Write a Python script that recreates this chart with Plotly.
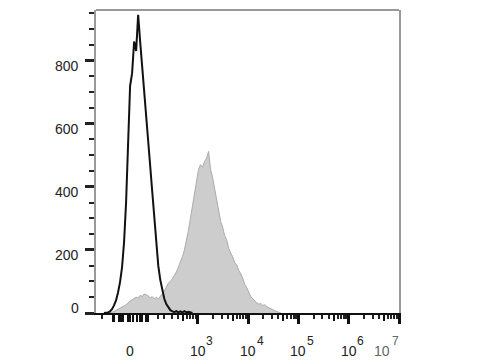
import numpy as np
import plotly.graph_objects as go

# ---- data (histogram counts on display-channel bins) ----
W = 90.0  # biexponential width parameter

def T(v):
    return np.arcsinh(np.asarray(v, dtype=float) / W) / np.log(10)

BIN_START = -0.52   # display-channel units
BIN_STEP = 0.04

control_counts = [0, 0, 2, 5, 12, 24, 40, 65, 98, 145,
                  225, 350, 540, 720, 760, 860, 830, 945, 860, 775,
                  690, 610, 530, 465, 385, 300, 215, 150, 105, 70,
                  45, 28, 16, 9, 5, 3, 6, 2, 5, 2,
                  6, 2, 4, 1, 0]

stained_counts = [0, 0, 0, 0, 2, 5, 8, 12, 15, 18,
                  22, 26, 33, 38, 42, 46, 50, 48, 56, 52,
                  60, 58, 55, 48, 52, 45, 50, 44, 52, 62,
                  70, 82, 95, 100, 108, 120, 130, 145, 160, 178,
                  200, 228, 262, 300, 340, 380, 420, 455, 470, 462,
                  480, 490, 512, 455, 430, 395, 350, 320, 290, 272,
                  245, 232, 205, 190, 178, 160, 152, 135, 125, 110,
                  90, 80, 65, 52, 45, 38, 32, 28, 30, 24,
                  26, 20, 16, 14, 10, 7, 4, 2, 0]

x_major_vals = [1e3, 1e4, 1e5, 1e6, 1e7]
x_label_vals = [0, 1e3, 1e4, 1e5, 1e6, 1e7]
x_label_base = ["0", "10", "10", "10", "10", "10"]
x_label_exp = ["", "3", "4", "5", "6", "7"]
y_label_vals = [0, 200, 400, 600, 800]
y_label_text = ["0", "200", "400", "600", "800"]

X_MIN_VAL = -205.0
X_MAX_VAL = 1e7
Y_MAX = 960

# ---- derived ----
x_ctrl = [BIN_START + i * BIN_STEP for i in range(len(control_counts))]
x_stain = [BIN_START + i * BIN_STEP for i in range(len(stained_counts))]

minor_vals = [-150, 150, 200, 300, 400, 600, 700, 800, 900]
for k in range(3, 7):
    for m in [2, 3, 4, 6, 7, 8, 9]:
        minor_vals.append(m * 10 ** k)
medium_vals = [5 * 10 ** k for k in range(3, 7)] + [500]
cluster_vals = [-80, -70, -50, -40, -30, -10, 0, 10, 30, 40, 50, 70, 80]

xr = [float(T(X_MIN_VAL)), float(T(X_MAX_VAL))]

FONT = "Liberation Sans, Arial, Helvetica, sans-serif"

fig = go.Figure()
fig.add_trace(go.Scatter(x=x_stain, y=stained_counts, mode="lines",
                         fill="tozeroy", fillcolor="#cdcdcd",
                         line=dict(color="#ababab", width=1),
                         showlegend=False, hoverinfo="skip"))
fig.add_trace(go.Scatter(x=x_ctrl, y=control_counts, mode="lines",
                         line=dict(color="#111111", width=2),
                         showlegend=False, hoverinfo="skip"))
# carrier trace for the overlay tick axis
fig.add_trace(go.Scatter(x=[xr[0]], y=[None], xaxis="x2", mode="lines",
                         showlegend=False, hoverinfo="skip"))

annotations = []
for v, t in zip(y_label_vals, y_label_text):
    annotations.append(dict(xref="paper", yref="y", x=0, y=v, text=t,
                            showarrow=False, xanchor="right", yanchor="middle",
                            xshift=-15, yshift=(5 if v == 0 else -5),
                            font=dict(family=FONT, size=14, color="#222")))
for v, b, e in zip(x_label_vals, x_label_base, x_label_exp):
    last = (v == X_MAX_VAL)
    col = "#666" if last else "#222"
    annotations.append(dict(xref="x", yref="paper", x=float(T(v)), y=0,
                            text=b, showarrow=False, xanchor="center",
                            yanchor="middle", yshift=-38,
                            xshift=(-17 if last else 0),
                            font=dict(family=FONT, size=14, color=col)))
    if e:
        annotations.append(dict(xref="x", yref="paper", x=float(T(v)), y=0,
                                text=e, showarrow=False, xanchor="center",
                                yanchor="middle", yshift=-28,
                                xshift=(-4 if last else 12),
                                font=dict(family=FONT, size=12, color=col)))

fig.update_layout(
    width=480, height=360, autosize=False,
    margin=dict(l=96, r=81, t=10, b=47, pad=0),
    paper_bgcolor="white", plot_bgcolor="white",
    xaxis=dict(range=xr, showgrid=False, zeroline=False,
               showline=True, linecolor="#111", linewidth=2,
               ticks="outside", tickvals=[float(T(v)) for v in x_major_vals],
               ticklen=9, tickwidth=3, tickcolor="#111",
               showticklabels=False,
               minor=dict(tickvals=[float(T(v)) for v in minor_vals],
                          ticks="outside", ticklen=4, tickwidth=1.5,
                          tickcolor="#222")),
    xaxis2=dict(range=xr, overlaying="x", anchor="y", side="bottom",
                showgrid=False, zeroline=False, showline=False,
                ticks="outside", tickvals=[float(T(v)) for v in medium_vals],
                ticklen=7, tickwidth=2, tickcolor="#111",
                showticklabels=False,
                minor=dict(tickvals=[float(T(v)) for v in cluster_vals],
                           ticks="outside", ticklen=8, tickwidth=1.5,
                           tickcolor="#111")),
    yaxis=dict(range=[0, Y_MAX], showgrid=False, zeroline=False,
               showline=True, linecolor="#999", linewidth=2, mirror=True,
               ticks="outside", tickvals=y_label_vals,
               ticklen=9, tickwidth=3, tickcolor="#222",
               showticklabels=False,
               minor=dict(tickvals=[v for v in range(50, 951, 50) if v % 200 != 0],
                          ticks="outside", ticklen=5, tickwidth=1.5,
                          tickcolor="#222")),
    shapes=[dict(type="line", xref="paper", yref="paper", x0=0, x1=1,
                 y0=1, y1=1, line=dict(color="#999", width=2))],
    annotations=annotations,
)

fig.write_html("out.html")
